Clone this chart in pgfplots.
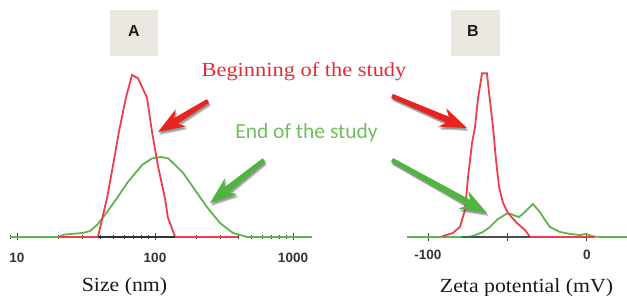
\documentclass[border=0pt]{standalone}
\usepackage{pgfplots}
\pgfplotsset{compat=1.18}
\usepackage{fontspec}
\usepackage{graphicx}
\usetikzlibrary{calc}
\setmainfont{Liberation Serif}
\newfontfamily\carlito{Carlito}
\newfontfamily\lsans{Liberation Sans}
\definecolor{cred}{RGB}{238,62,74}
\definecolor{cgreen}{RGB}{96,180,74}
\definecolor{tred}{RGB}{226,44,54}
\definecolor{tgreen}{RGB}{112,190,92}
\definecolor{ared}{RGB}{232,36,32}
\definecolor{agreen}{RGB}{78,182,62}
\definecolor{boxfill}{RGB}{233,231,223}
\definecolor{dgreen}{RGB}{40,120,50}
\newcommand{\ticklab}{\lsans\bfseries\fontsize{13.5}{15}\selectfont}
\newcommand{\farrow}[3]{%
 \coordinate (T) at #2; \coordinate (P) at #3;
 \coordinate (J) at ($(P)!21pt!(T)$);
 \coordinate (W) at ($(P)!27pt!(T)$);
 \coordinate (tl) at ($(T)!2.2pt!90:(P)$);
 \coordinate (tr) at ($(T)!2.2pt!-90:(P)$);
 \coordinate (jl) at ($(J)!3.3pt!90:(P)$);
 \coordinate (jr) at ($(J)!3.3pt!-90:(P)$);
 \coordinate (wl) at ($(W)!10pt!90:(P)$);
 \coordinate (wr) at ($(W)!10pt!-90:(P)$);
 \begin{scope}[transform canvas={shift={(1.5pt,-3pt)}}]
 \fill[black!75, opacity=0.3] (tl)--(jl)--(wl)--(P)--(wr)--(jr)--(tr)--cycle;
 \end{scope}
 \begin{scope}[transform canvas={shift={(0.8pt,-1.8pt)}}]
 \fill[black!75, opacity=0.35] (tl)--(jl)--(wl)--(P)--(wr)--(jr)--(tr)--cycle;
 \end{scope}
 \fill[#1] (tl)--(jl)--(wl)--(P)--(wr)--(jr)--(tr)--cycle;
}
\begin{document}
\begin{tikzpicture}
\useasboundingbox (0pt,0pt) rectangle (627pt,-296pt);
% Panel A
\begin{axis}[at={(10pt,-237pt)}, anchor=south west, scale only axis,
  width=302pt, height=162pt, xmode=log, xmin=8.9, xmax=1373, ymin=0, ymax=100,
  clip=false, axis y line=none, axis x line*=bottom, x axis line style={draw=none},
  xtick={10,100,1000}, xticklabels={10,100,1000},
  minor xtick={9,20,30,40,50,60,70,80,90,200,300,400,500,600,700,800,900},
  xtick align=center, major tick length=7pt, minor tick length=4pt,
  every tick/.style={black!75, line width=0.9pt},
  xticklabel style={font=\ticklab, text=black!80, inner sep=0pt, anchor=north},
  xticklabel shift=12pt]
\addplot[cgreen, line width=1.8pt] coordinates {(8.9,0) (19.8,0) (22,1.5) (30,2.5) (33.8,3.7) (38,7.4) (43.4,13.6) (53,24) (63.7,34) (80.5,44.4) (95,48.5) (110,49.4) (125,48.5) (160,39.5) (195,29) (238,18.5) (296,8.6) (367,2.5) (464,0) (1373,0)};
\addplot[cred, line width=1.8pt] coordinates {(20,0) (38.6,0) (44.9,24) (49.6,44) (54.8,65) (61.6,86) (68.1,100) (75.3,98) (87.5,86) (95.1,65) (105,44) (118,24) (124,12) (140,0) (400,0)};
\addplot[black!80, line width=1.8pt] coordinates {(38.6,0) (140,0)};
\end{axis}
% Panel B
\begin{axis}[at={(407pt,-237pt)}, anchor=south west, scale only axis,
  width=220pt, height=162pt, xmin=-113.2, xmax=25.2, ymin=0, ymax=100,
  clip=false, axis y line=none, axis x line*=bottom, x axis line style={draw=none},
  xtick={-100,-50,0}, xticklabels={-100,,0},
  xtick align=center, major tick length=8pt,
  every tick/.style={black!75, line width=0.9pt},
  xticklabel style={font=\ticklab, text=black!80, inner sep=0pt, anchor=north},
  xticklabel shift=9pt]
\addplot[cgreen, line width=1.8pt] coordinates {(-113.2,0) (-75,0) (-71.7,0.6) (-65.4,3.1) (-61,6.2) (-56,11.1) (-49.7,14.8) (-42.8,12.3) (-39,15.4) (-34,20.4) (-29.6,15.4) (-26.4,10.5) (-23.3,6.2) (-17,3.1) (-10.7,1.9) (-4.4,1.2) (-0.6,1.9) (3.8,0.4) (8,0) (25.2,0)};
\addplot[cred, line width=1.8pt] coordinates {(-91,0) (-90.6,0.6) (-84.3,2.5) (-79.9,6.2) (-76.7,16.7) (-74.8,37) (-72.3,58) (-70.4,68) (-68.6,85) (-66,101) (-62.9,101) (-61.6,89) (-59.1,68) (-57.2,47.5) (-55.3,31) (-52.8,21) (-49.7,14.8) (-44,8.6) (-39,4.3) (-35.8,0) (5,0)};
\addplot[dgreen, line width=2pt] coordinates {(-78.6,0) (-71.7,0)};
\addplot[black!70, line width=2pt] coordinates {(-71.7,0) (-35.8,0)};
\end{axis}
\begin{scope}[x=1pt,y=1pt]
\fill[boxfill] (110,-10) rectangle (158,-56);
\node[font=\lsans\bfseries\fontsize{16}{18}\selectfont, text=black!90] at (134,-31) {A};
\fill[boxfill] (451,-10) rectangle (500,-56);
\node[font=\lsans\bfseries\fontsize{16}{18}\selectfont, text=black!90] at (473,-31) {B};
\node[anchor=base, text=tred, font=\fontsize{20}{24}\selectfont] at (304,-76.5) {\scalebox{1.12}[1]{Beginning of the study}};
\node[anchor=base, text=tgreen, font=\carlito\fontsize{21.5}{24}\selectfont] at (306.5,-139) {End of the study};
\node[anchor=base, text=black!90, font=\fontsize{20}{24}\selectfont] at (124.5,-292) {\scalebox{1.09}[1]{Size (nm)}};
\node[anchor=base, text=black!90, font=\fontsize{20}{24}\selectfont] at (526.5,-293) {\scalebox{1.09}[1]{Zeta potential (mV)}};
\farrow{ared}{(208,-101)}{(158,-132)}
\farrow{agreen}{(264,-160)}{(210,-203)}
\farrow{ared}{(392,-96)}{(467,-128)}
\farrow{agreen}{(392,-160)}{(487,-213)}
\end{scope}
\end{tikzpicture}
\end{document}
